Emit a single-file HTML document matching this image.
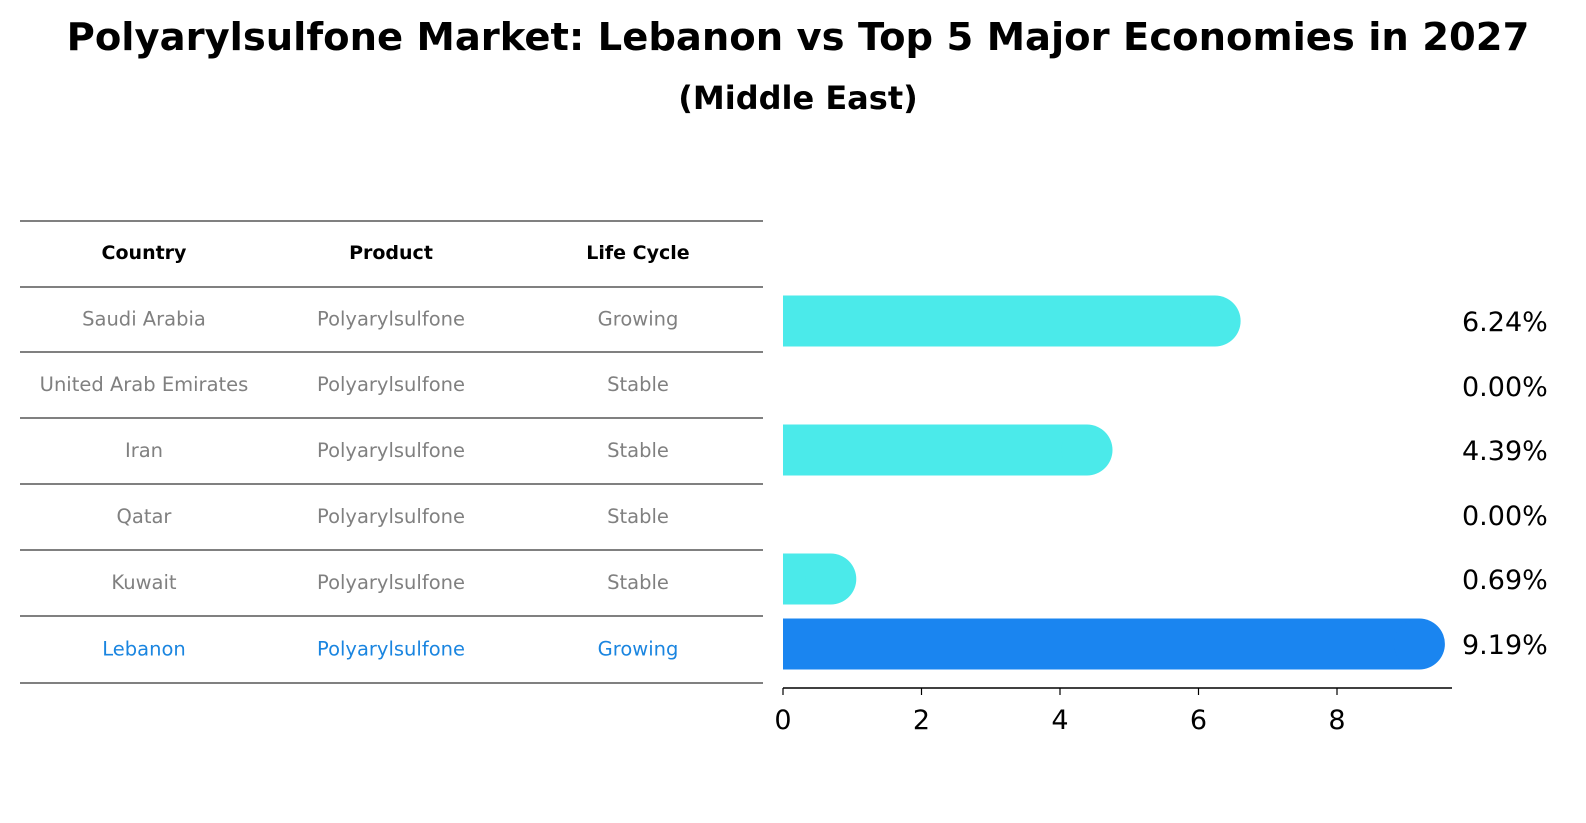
<!DOCTYPE html>
<html><head><meta charset="utf-8"><style>
html,body{margin:0;padding:0;background:#fff;overflow:hidden;width:1586px;height:823px}
svg{display:block}
</style></head><body>
<svg width="1586" height="823" viewBox="0 0 1586 823" xmlns="http://www.w3.org/2000/svg" font-family="DejaVu Sans, Liberation Sans, sans-serif">
<text x="798" y="50" text-anchor="middle" font-size="38.5" font-weight="bold">Polyarylsulfone Market: Lebanon vs Top 5 Major Economies in 2027</text>
<text x="798" y="109" text-anchor="middle" font-size="32" font-weight="bold">(Middle East)</text>
<g id="table"></g>
<g id="chart"></g>
</svg>
<script>
const countries=["Saudi Arabia","United Arab Emirates","Iran","Qatar","Kuwait","Lebanon"];
const products=["Polyarylsulfone","Polyarylsulfone","Polyarylsulfone","Polyarylsulfone","Polyarylsulfone","Polyarylsulfone"];
const lifecycle=["Growing","Stable","Stable","Stable","Stable","Growing"];
const values=[6.24,0.00,4.39,0.00,0.69,9.19];
const ticks=[0,2,4,6,8];
const NS="http://www.w3.org/2000/svg";
function mk(tag,attrs,parent,text){const e=document.createElementNS(NS,tag);for(const k in attrs)e.setAttribute(k,attrs[k]);if(text!==undefined)e.textContent=text;parent.appendChild(e);return e;}
const tbl=document.getElementById('table');
const lines=[221,287,352,418,484,550,616,683];
lines.forEach(y=>{const l=mk('line',{x1:20,x2:763,y1:y,y2:y,stroke:'#000','stroke-width':1},tbl);

});
const cols=[144,391,638];
["Country","Product","Life Cycle"].forEach((h,i)=>{const t=mk('text',{x:cols[i],y:259,'text-anchor':'middle','font-size':19,'font-weight':'bold'},tbl,h);

});
countries.forEach((c,r)=>{const y=(lines[r+1]+lines[r+2])/2+6;const col=r===5?'#1a85e0':'#808080';
[c,products[r],lifecycle[r]].forEach((v,i)=>{const t=mk('text',{x:cols[i],y:y,'text-anchor':'middle','font-size':19.5,fill:col},tbl,v);

});});
const ch=document.getElementById('chart');
const x0=783,ppu=69.25;const xs=v=>x0+v*ppu;
const yc=i=>[321,386,450,515,579,644][i];
const bh=51;
values.forEach((v,i)=>{const col=i===5?'#1a85f0':'#4beaea';
if(v>0){const g=mk('g',{},ch);


mk('rect',{x:x0,y:yc(i)-bh/2,width:xs(v)-x0,height:bh,fill:col},g);
mk('circle',{cx:xs(v),cy:yc(i),r:bh/2,fill:col},g);}
const t=mk('text',{x:1462,y:yc(i)+10,'font-size':27},ch,values[i].toFixed(2)+'%');

});
const ax=mk('line',{x1:x0,x2:1452,y1:688,y2:688,stroke:'#000','stroke-width':1.5},ch);


ticks.forEach(t=>{mk('line',{x1:xs(t),x2:xs(t),y1:688,y2:695,stroke:'#000','stroke-width':1.2},ch);
const l=mk('text',{x:xs(t),y:729,'text-anchor':'middle','font-size':27},ch,String(t));

});
</script>
</body></html>
